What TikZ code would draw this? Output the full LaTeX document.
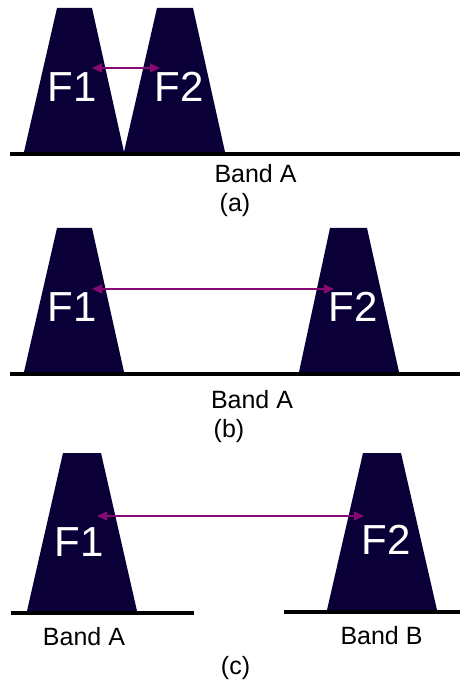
\documentclass[tikz,border=0pt]{standalone}
\usepackage{fontspec}
\setmainfont{Liberation Sans}
\usetikzlibrary{arrows.meta,positioning,calc}
\definecolor{filtro}{RGB}{10,0,55}
\definecolor{roxo}{RGB}{135,10,115}

\begin{document}
\begin{tikzpicture}[
      x=1pt, y=-1pt,
      canal/.style={fill=filtro},
      banda/.style={line width=4pt, black},
      rotulo/.style={text=white, inner sep=0pt, font=\fontsize{42}{42}\selectfont},
      legenda/.style={inner sep=0pt, font=\fontsize{25}{28}\selectfont},
      seta/.style={{Triangle[length=10pt,width=9pt]}-{Triangle[length=10pt,width=9pt]},
                   line width=1.4pt, roxo}
  ]
      \useasboundingbox (0,0) rectangle (460,684);

      % (a) canais adjacentes
      \fill[canal] (24,152) -- (57,8) -- (92,8) -- (124,152) -- cycle;
      \fill[canal] (124,152) -- (157,8) -- (193,8) -- (225,152) -- cycle;
      \draw[banda] (10,154) -- (460,154);
      \node[rotulo] (a1) at (72.5,87) {F1};
      \node[rotulo] (a2) at (179,87) {F2};
      \coordinate (aL) at (92,68);
      \coordinate (aR) at (160,68);
      \draw[seta] (aL) -- (aR);
      \node[legenda] (bandaA1) at (255.5,174) {Band A};
      \node[legenda] (capA) at (235,205) {(a)};

      % (b) mesma banda, canais afastados
      \fill[canal] (24,372) -- (57,228) -- (92,228) -- (124,372) -- cycle;
      \fill[canal] (299,372) -- (330,228) -- (367,228) -- (399,372) -- cycle;
      \draw[banda] (10,374) -- (460,374);
      \node[rotulo] (b1) at (72.5,307) {F1};
      \node[rotulo] (b2) at (353.5,307) {F2};
      \coordinate (bL) at (92,289);
      \coordinate (bR) at (334,289);
      \draw[seta] (bL) -- (bR);
      \node[legenda] (bandaA2) at (252,400) {Band A};
      \node[legenda] (capB) at (229,431) {(b)};

      % (c) bandas diferentes
      \fill[canal] (27,611) -- (63,453) -- (101,453) -- (137,611) -- cycle;
      \fill[canal] (327,610) -- (363,453) -- (401,453) -- (437,610) -- cycle;
      \draw[banda] (11,613) -- (194,613);
      \draw[banda] (284,612) -- (460,612);
      \node[rotulo] (c1) at (79,542) {F1};
      \node[rotulo] (c2) at (386.5,540) {F2};
      \coordinate (cL) at (97,516);
      \coordinate (cR) at (364,516);
      \draw[seta] (cL) -- (cR);
      \node[legenda] (bandaA3) at (84,636.5) {Band A};
      \node[legenda] (bandaB) at (381.5,636) {Band B};
      \node[legenda] (capC) at (235.5,668) {(c)};
  \end{tikzpicture}
\end{document}
